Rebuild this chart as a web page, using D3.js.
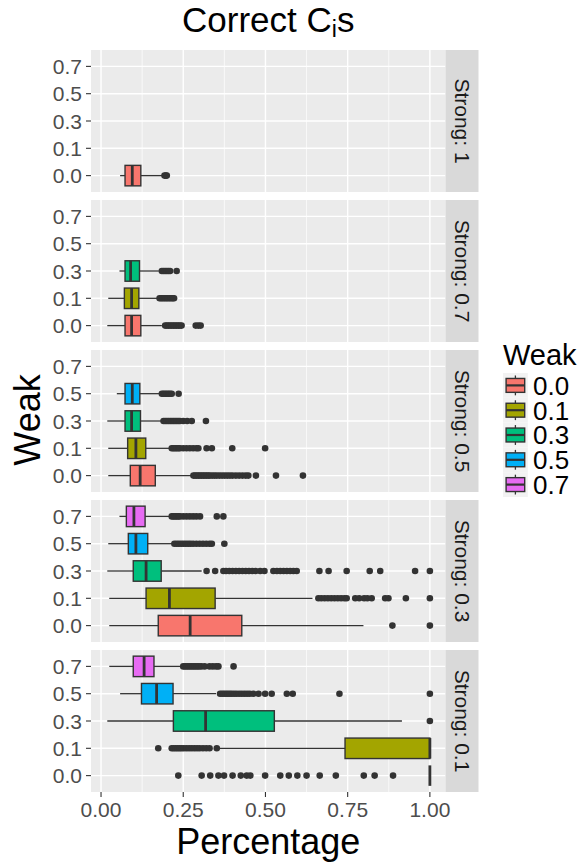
<!DOCTYPE html>
<html>
<head>
<meta charset="utf-8">
<script src="https://cdn.jsdelivr.net/npm/d3@7"></script>
<style>
  html, body { margin: 0; padding: 0; background: #ffffff; }
  svg { display: block; }
  text { font-family: "Liberation Sans", Arial, Helvetica, sans-serif; }
</style>
</head>
<body>
<svg id="chart" width="579" height="867"></svg>
<script>
// ---------------- DATA ----------------
const strongLevels = ["1", "0.7", "0.5", "0.3", "0.1"];
const weakLevels = ["0.0", "0.1", "0.3", "0.5", "0.7"];
const weakColors = ["#F8766D", "#A3A500", "#00BF7D", "#00B0F6", "#E76BF3"];
const xTicks = [0, 0.25, 0.5, 0.75, 1];
const xTickLabels = ["0.00", "0.25", "0.50", "0.75", "1.00"];
const xMinor = [0.125, 0.375, 0.625, 0.875];

// one entry per box
const boxStrong = ["1",
  "0.7", "0.7", "0.7",
  "0.5", "0.5", "0.5", "0.5",
  "0.3", "0.3", "0.3", "0.3", "0.3",
  "0.1", "0.1", "0.1", "0.1", "0.1"];
const boxWeak = ["0.0",
  "0.3", "0.1", "0.0",
  "0.5", "0.3", "0.1", "0.0",
  "0.7", "0.5", "0.3", "0.1", "0.0",
  "0.7", "0.5", "0.3", "0.1", "0.0"];
const boxLow = [0.058,
  0.056, 0.022, 0.019,
  0.048, 0.019, 0.022, 0.022,
  0.056, 0.022, 0.019, 0.025, 0.025,
  0.025, 0.058, 0.019, 0.357, 1.0];
const boxQ1 = [0.073,
  0.073, 0.071, 0.073,
  0.073, 0.073, 0.081, 0.089,
  0.077, 0.083, 0.098, 0.137, 0.174,
  0.098, 0.123, 0.220, 0.742, 1.0];
const boxMedian = [0.095,
  0.090, 0.093, 0.093,
  0.095, 0.093, 0.106, 0.119,
  0.100, 0.106, 0.137, 0.208, 0.271,
  0.131, 0.169, 0.318, 1.0, 1.0];
const boxQ3 = [0.121,
  0.117, 0.115, 0.121,
  0.118, 0.120, 0.136, 0.165,
  0.134, 0.142, 0.183, 0.347, 0.428,
  0.161, 0.219, 0.527, 1.0, 1.0];
const boxHigh = [0.188,
  0.176, 0.171, 0.185,
  0.177, 0.185, 0.212, 0.276,
  0.212, 0.220, 0.306, 0.643, 0.798,
  0.249, 0.350, 0.915, 1.0, 1.0];
const boxOutliers = [
  [0.193, 0.197, 0.200],
  [0.185, 0.190, 0.195, 0.200, 0.205, 0.210, 0.230],
  [0.178, 0.183, 0.188, 0.193, 0.198, 0.203, 0.208, 0.213, 0.218, 0.222],
  [0.195, 0.200, 0.205, 0.210, 0.215, 0.220, 0.225, 0.230, 0.235, 0.240, 0.245, 0.288, 0.296, 0.303],
  [0.185, 0.190, 0.195, 0.200, 0.205, 0.210, 0.215, 0.236],
  [0.190, 0.195, 0.200, 0.205, 0.210, 0.215, 0.220, 0.225, 0.230, 0.235, 0.240, 0.250, 0.262, 0.276, 0.319],
  [0.215, 0.220, 0.225, 0.230, 0.235, 0.240, 0.250, 0.260, 0.270, 0.280, 0.290, 0.296, 0.321, 0.337, 0.399, 0.499],
  [0.281, 0.286, 0.291, 0.296, 0.301, 0.306, 0.311, 0.316, 0.321, 0.326, 0.331, 0.338, 0.345, 0.352, 0.360, 0.368, 0.376, 0.384, 0.392, 0.400, 0.410, 0.420, 0.430, 0.440, 0.448, 0.471, 0.532, 0.614],
  [0.215, 0.220, 0.225, 0.230, 0.235, 0.240, 0.250, 0.260, 0.270, 0.280, 0.290, 0.301, 0.352, 0.372],
  [0.223, 0.230, 0.237, 0.244, 0.251, 0.258, 0.265, 0.272, 0.280, 0.290, 0.300, 0.310, 0.320, 0.330, 0.337, 0.375],
  [0.321, 0.347, 0.372, 0.380, 0.390, 0.400, 0.410, 0.420, 0.430, 0.440, 0.450, 0.460, 0.470, 0.484, 0.497, 0.524, 0.535, 0.545, 0.555, 0.565, 0.575, 0.585, 0.595, 0.664, 0.692, 0.747, 0.817, 0.849, 0.955, 1.0],
  [0.661, 0.670, 0.680, 0.690, 0.700, 0.710, 0.720, 0.730, 0.740, 0.747, 0.773, 0.785, 0.800, 0.810, 0.823, 0.864, 0.874, 0.927, 1.0],
  [0.886, 1.0],
  [0.250, 0.256, 0.262, 0.268, 0.274, 0.280, 0.286, 0.292, 0.298, 0.305, 0.315, 0.330, 0.340, 0.350, 0.357, 0.403],
  [0.362, 0.368, 0.374, 0.380, 0.386, 0.392, 0.398, 0.405, 0.412, 0.420, 0.428, 0.436, 0.444, 0.452, 0.463, 0.479, 0.499, 0.519, 0.565, 0.583, 0.725, 1.0],
  [1.0],
  [0.174, 0.215, 0.221, 0.227, 0.233, 0.239, 0.245, 0.252, 0.260, 0.268, 0.276, 0.284, 0.292, 0.300, 0.310, 0.320, 0.330, 0.352],
  [0.235, 0.306, 0.332, 0.357, 0.374, 0.400, 0.425, 0.443, 0.454, 0.499, 0.545, 0.571, 0.597, 0.625, 0.665, 0.714, 0.799, 0.832, 0.888]
];

// ---------------- LAYOUT ----------------
const svg = d3.select("#chart");
const panelLeft = 91, panelRight = 445.5;
const stripW = 33;
const panelTop0 = 50, panelH = 142, panelGap = 8;
const darkLine = "#333333";

const x = d3.scaleLinear().domain([-0.0305, 1.0475]).range([panelLeft, panelRight]);

// Title
const title = svg.append("text")
  .attr("x", (panelLeft + panelRight) / 2).attr("y", 32)
  .attr("text-anchor", "middle").attr("font-size", 35).attr("fill", "#000");
title.append("tspan").text("Correct C");
title.append("tspan").attr("font-size", 23).attr("dy", 5).text("i");
title.append("tspan").attr("dy", -5).text("s");

strongLevels.forEach((s, pi) => {
  const top = panelTop0 + pi * (panelH + panelGap);
  const y = d3.scalePoint().domain(weakLevels).range([top + panelH, top]).padding(0.6);
  const bw = y.step() * 0.75;
  const g = svg.append("g");

  // panel background
  g.append("rect").attr("x", panelLeft).attr("y", top)
    .attr("width", panelRight - panelLeft).attr("height", panelH).attr("fill", "#EBEBEB");
  // minor grid
  g.selectAll(".mn").data(xMinor).enter().append("line")
    .attr("x1", d => x(d)).attr("x2", d => x(d)).attr("y1", top).attr("y2", top + panelH)
    .attr("stroke", "#fff").attr("stroke-width", 0.7);
  // major grid
  g.selectAll(".mj").data(xTicks).enter().append("line")
    .attr("x1", d => x(d)).attr("x2", d => x(d)).attr("y1", top).attr("y2", top + panelH)
    .attr("stroke", "#fff").attr("stroke-width", 1.4);
  g.selectAll(".hj").data(weakLevels).enter().append("line")
    .attr("x1", panelLeft).attr("x2", panelRight).attr("y1", d => y(d)).attr("y2", d => y(d))
    .attr("stroke", "#fff").attr("stroke-width", 1.4);

  // strip
  g.append("rect").attr("x", panelRight).attr("y", top).attr("width", stripW).attr("height", panelH)
    .attr("fill", "#D9D9D9");
  g.append("text")
    .attr("transform", `translate(${panelRight + stripW / 2},${top + panelH / 2}) rotate(90)`)
    .attr("text-anchor", "middle").attr("dy", "0.35em")
    .attr("font-size", 21).attr("fill", "#1A1A1A").text("Strong: " + s);

  // y axis
  weakLevels.forEach(w => {
    g.append("line").attr("x1", panelLeft - 5).attr("x2", panelLeft)
      .attr("y1", y(w)).attr("y2", y(w)).attr("stroke", darkLine).attr("stroke-width", 1.1);
    g.append("text").attr("x", panelLeft - 9).attr("y", y(w)).attr("dy", "0.36em")
      .attr("text-anchor", "end").attr("font-size", 21).attr("fill", "#4D4D4D").text(w);
  });

  // boxes
  boxStrong.forEach((bs, i) => {
    if (bs !== s) return;
    const w = boxWeak[i];
    const cy = y(w);
    const col = weakColors[weakLevels.indexOf(w)];
    // whiskers
    g.append("line").attr("x1", x(boxLow[i])).attr("x2", x(boxQ1[i]))
      .attr("y1", cy).attr("y2", cy).attr("stroke", darkLine).attr("stroke-width", 1.3);
    g.append("line").attr("x1", x(boxQ3[i])).attr("x2", x(boxHigh[i]))
      .attr("y1", cy).attr("y2", cy).attr("stroke", darkLine).attr("stroke-width", 1.3);
    // box
    g.append("rect").attr("x", x(boxQ1[i])).attr("y", cy - bw / 2)
      .attr("width", Math.max(0, x(boxQ3[i]) - x(boxQ1[i]))).attr("height", bw)
      .attr("fill", col).attr("stroke", darkLine).attr("stroke-width", 1.4);
    // median
    g.append("line").attr("x1", x(boxMedian[i])).attr("x2", x(boxMedian[i]))
      .attr("y1", cy - bw / 2).attr("y2", cy + bw / 2)
      .attr("stroke", darkLine).attr("stroke-width", 2.8);
    // outliers
    g.selectAll(null).data(boxOutliers[i]).enter().append("circle")
      .attr("cx", d => x(d)).attr("cy", cy).attr("r", 3.3).attr("fill", darkLine);
  });
});

// x axis (bottom)
const bottom = panelTop0 + 4 * (panelH + panelGap) + panelH;
xTicks.forEach((t, i) => {
  svg.append("line").attr("x1", x(t)).attr("x2", x(t)).attr("y1", bottom).attr("y2", bottom + 5)
    .attr("stroke", darkLine).attr("stroke-width", 1.1);
  svg.append("text").attr("x", x(t)).attr("y", bottom + 25).attr("text-anchor", "middle")
    .attr("font-size", 21).attr("fill", "#4D4D4D").text(xTickLabels[i]);
});

// axis titles
svg.append("text").attr("x", (panelLeft + panelRight) / 2).attr("y", 854)
  .attr("text-anchor", "middle").attr("font-size", 36).attr("fill", "#000").text("Percentage");
svg.append("text")
  .attr("transform", `translate(40,420) rotate(-90)`)
  .attr("text-anchor", "middle").attr("font-size", 36).attr("fill", "#000").text("Weak");

// legend
const lgX = 503, lgY = 373, keyS = 24.8;
svg.append("text").attr("x", lgX).attr("y", 365).attr("font-size", 29).attr("fill", "#000").text("Weak");
weakLevels.forEach((w, i) => {
  const ky = lgY + i * keyS;
  const kg = svg.append("g");
  kg.append("rect").attr("x", lgX).attr("y", ky).attr("width", keyS).attr("height", keyS).attr("fill", "#F2F2F2");
  const cx = lgX + keyS / 2;
  kg.append("line").attr("x1", cx).attr("x2", cx).attr("y1", ky + keyS * 0.1).attr("y2", ky + keyS * 0.9)
    .attr("stroke", darkLine).attr("stroke-width", 1.3);
  kg.append("rect").attr("x", lgX + keyS * 0.125).attr("y", ky + keyS * 0.22)
    .attr("width", keyS * 0.75).attr("height", keyS * 0.56)
    .attr("fill", weakColors[i]).attr("stroke", darkLine).attr("stroke-width", 1.4);
  kg.append("line").attr("x1", lgX + keyS * 0.125).attr("x2", lgX + keyS * 0.875)
    .attr("y1", ky + keyS / 2).attr("y2", ky + keyS / 2).attr("stroke", darkLine).attr("stroke-width", 2.2);
  kg.append("text").attr("x", lgX + 30).attr("y", ky + keyS / 2).attr("dy", "0.36em")
    .attr("font-size", 26).attr("fill", "#000").text(w);
});
</script>
</body>
</html>
